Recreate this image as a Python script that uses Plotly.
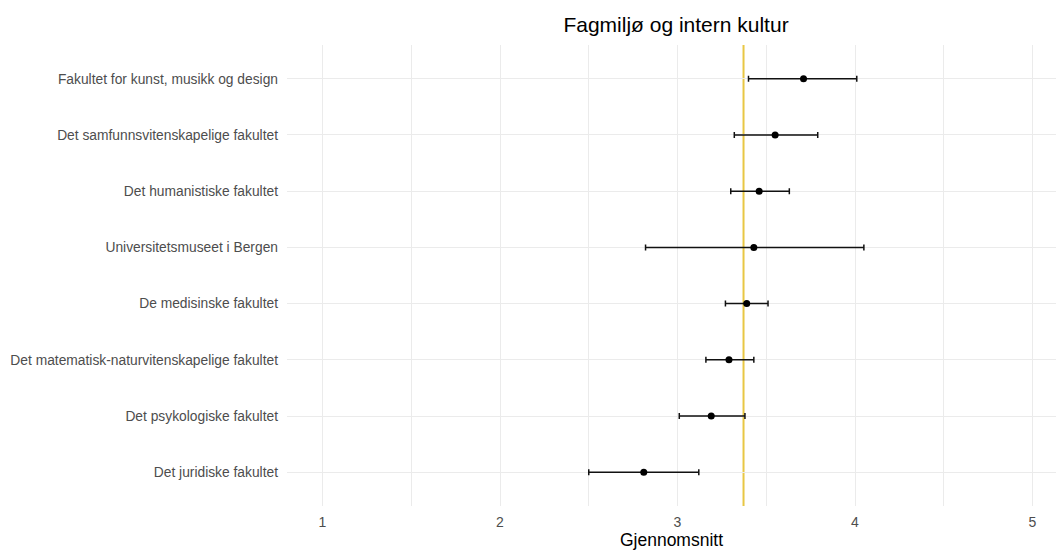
import plotly.graph_objects as go

# Faculties, listed top to bottom as shown
faculties = [
    "Fakultet for kunst, musikk og design",
    "Det samfunnsvitenskapelige fakultet",
    "Det humanistiske fakultet",
    "Universitetsmuseet i Bergen",
    "De medisinske fakultet",
    "Det matematisk-naturvitenskapelige fakultet",
    "Det psykologiske fakultet",
    "Det juridiske fakultet",
]
mean_score = [3.71, 3.55, 3.46, 3.43, 3.39, 3.29, 3.19, 2.81]
ci_lower = [3.40, 3.32, 3.30, 2.82, 3.27, 3.16, 3.01, 2.50]
ci_upper = [4.01, 3.79, 3.63, 4.05, 3.51, 3.43, 3.38, 3.12]
overall_mean = 3.372

x_ticks = [1, 2, 3, 4, 5]

err_plus = [u - m for u, m in zip(ci_upper, mean_score)]
err_minus = [m - l for m, l in zip(mean_score, ci_lower)]

fig = go.Figure()

fig.add_trace(go.Scatter(
    x=mean_score,
    y=faculties,
    mode="markers",
    marker=dict(color="black", size=7),
    error_x=dict(
        type="data",
        symmetric=False,
        array=err_plus,
        arrayminus=err_minus,
        color="#111111",
        thickness=1.5,
        width=3,
    ),
    showlegend=False,
    hoverinfo="skip",
))

# Overall average reference line
fig.add_shape(
    type="line",
    x0=overall_mean, x1=overall_mean,
    y0=0, y1=1, yref="paper",
    line=dict(color="#E8C744", width=2),
    layer="between",
)

grid_col = "#ebebeb"

fig.update_layout(
    width=1056,
    height=550,
    margin=dict(l=287, r=0, t=45, b=44),
    paper_bgcolor="white",
    plot_bgcolor="white",
    font=dict(family="Liberation Sans, Arial, sans-serif", color="#4d4d4d"),
    title=dict(
        text="Fagmiljø og intern kultur",
        x=676 / 1056, xanchor="center", xref="container",
        y=1 - 25 / 550, yanchor="middle", yref="container",
        font=dict(size=21, color="black"),
    ),
    xaxis=dict(
        range=[0.8, 0.8 + (1056 - 287) / 177.5],
        tickmode="array",
        tickvals=x_ticks,
        ticktext=[str(v) for v in x_ticks],
        tickfont=dict(size=14, color="#4d4d4d"),
        ticklabelstandoff=6,
        showgrid=True,
        gridcolor=grid_col,
        gridwidth=1.2,
        minor=dict(tickmode="array", tickvals=[1.5, 2.5, 3.5, 4.5],
                   showgrid=True, gridcolor=grid_col, gridwidth=0.6),
        zeroline=False,
        showline=False,
        ticks="",
        automargin=False,
        title=dict(text="Gjennomsnitt", font=dict(size=17.5, color="black"),
                   standoff=3),
    ),
    yaxis=dict(
        type="category",
        categoryorder="array",
        categoryarray=faculties,
        range=[len(faculties) - 0.4, -0.6],
        tickfont=dict(size=13.8, color="#4d4d4d"),
        showgrid=True,
        gridcolor=grid_col,
        gridwidth=1.2,
        zeroline=False,
        showline=False,
        ticks="",
        ticklabelstandoff=8,
    ),
)

fig.write_html("out.html")
